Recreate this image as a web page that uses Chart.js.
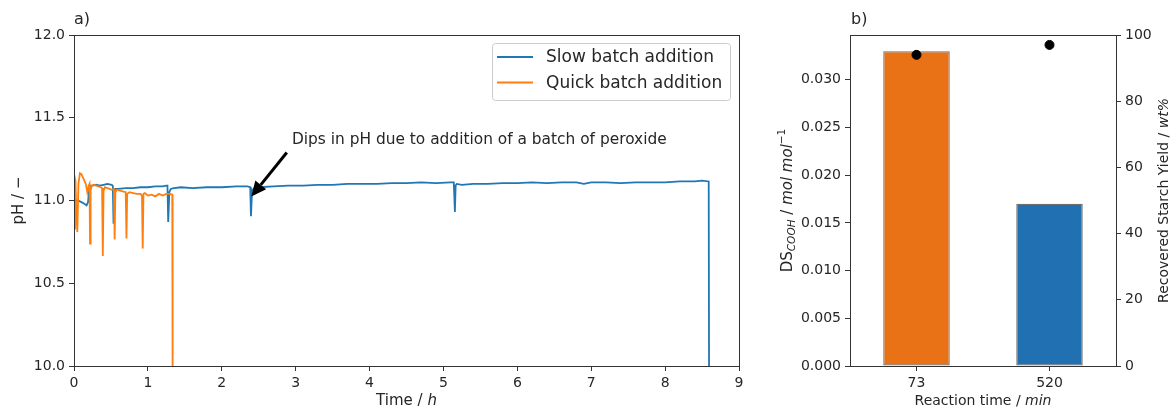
<!DOCTYPE html>
<html>
<head>
<meta charset="utf-8">
<script src="https://cdn.jsdelivr.net/npm/chart.js@4.4.1/dist/chart.umd.min.js"></script>
<style>
  html, body { margin: 0; padding: 0; background: #fff; }
  #wrap { position: relative; width: 1173px; height: 410px; }
  #phChart { position: absolute; left: 0; top: 0; }
  #barChart { position: absolute; left: 760px; top: 0; }
</style>
</head>
<body>
<div id="wrap">
  <canvas id="phChart" width="760" height="410"></canvas>
  <canvas id="barChart" width="413" height="410"></canvas>
</div>
<script>
// panel a) pH during the reaction
const slowTime = [
  0.00, 0.01, 0.05, 0.10, 0.14, 0.17, 0.19, 0.21, 0.25, 0.30,
  0.35, 0.40, 0.45, 0.51, 0.525, 0.535, 0.55, 0.60, 0.70, 0.80,
  0.90, 1.00, 1.10, 1.20, 1.25, 1.265, 1.275, 1.29, 1.31, 1.35,
  1.45, 1.60, 1.80, 2.00, 2.20, 2.35, 2.385, 2.395, 2.41, 2.44,
  2.50, 2.70, 2.90, 3.10, 3.30, 3.50, 3.70, 3.90, 4.10, 4.30,
  4.50, 4.70, 4.90, 5.10, 5.14, 5.155, 5.165, 5.18, 5.25, 5.40,
  5.60, 5.80, 6.00, 6.20, 6.40, 6.60, 6.80, 6.90, 7.00, 7.20,
  7.40, 7.60, 7.80, 8.00, 8.20, 8.40, 8.50, 8.59, 8.595
];
const slowPH = [
  10.83, 11.00, 11.00, 10.99, 10.98, 10.97, 10.99, 11.09, 11.09, 11.095,
  11.09, 11.095, 11.10, 11.095, 11.09, 10.86, 11.07, 11.07, 11.075, 11.075,
  11.08, 11.08, 11.085, 11.085, 11.09, 11.09, 10.87, 11.05, 11.07, 11.075,
  11.08, 11.075, 11.08, 11.08, 11.085, 11.085, 11.08, 10.905, 11.06, 11.075,
  11.08, 11.085, 11.09, 11.09, 11.095, 11.095, 11.10, 11.10, 11.10, 11.105,
  11.105, 11.11, 11.105, 11.11, 11.11, 10.93, 11.09, 11.10, 11.095, 11.10,
  11.10, 11.105, 11.105, 11.11, 11.105, 11.11, 11.11, 11.10, 11.11, 11.11,
  11.105, 11.11, 11.11, 11.11, 11.115, 11.115, 11.12, 11.115, 9.9
];
const quickTime = [
  0.00, 0.01, 0.02, 0.03, 0.045, 0.06, 0.08, 0.10, 0.12, 0.14,
  0.16, 0.18, 0.20, 0.21, 0.217, 0.225, 0.24, 0.27, 0.30, 0.33,
  0.36, 0.38, 0.39, 0.40, 0.42, 0.45, 0.48, 0.51, 0.54, 0.55,
  0.56, 0.58, 0.62, 0.66, 0.70, 0.71, 0.72, 0.75, 0.80, 0.85,
  0.90, 0.92, 0.93, 0.94, 0.96, 1.00, 1.05, 1.10, 1.15, 1.20,
  1.25, 1.30, 1.33, 1.335
];
const quickPH = [
  11.08, 11.14, 11.12, 10.95, 10.81, 11.10, 11.165, 11.16, 11.14, 11.12,
  11.10, 11.05, 11.09, 11.10, 10.74, 11.06, 11.09, 11.095, 11.09, 11.085,
  11.08, 11.075, 10.665, 11.06, 11.08, 11.075, 11.07, 11.065, 11.07, 10.765,
  11.05, 11.065, 11.06, 11.055, 11.05, 10.77, 11.04, 11.05, 11.045, 11.04,
  11.04, 11.03, 10.71, 11.04, 11.045, 11.03, 11.035, 11.025, 11.04, 11.03,
  11.04, 11.04, 11.035, 9.9
];
const timeTicks = [0, 1, 2, 3, 4, 5, 6, 7, 8, 9];
const phTicks = [10.0, 10.5, 11.0, 11.5, 12.0];

// panel b) DS and recovered yield
const reactionTimes = ['73', '520'];
const dsCooh = [0.033, 0.017];
const starchYield = [94, 97];
const dsTicks = [0, 0.005, 0.010, 0.015, 0.020, 0.025, 0.030];
const yieldTicks = [0, 20, 40, 60, 80, 100];

const FONT = 'DejaVu Sans';
const TXT = '#262626';
const AXIS = '#333';

function pairs(xs, ys) {
  return xs.map((x, i) => ({ x: x, y: ys[i] }));
}

// draw a run of text pieces (sub/superscript, italics) centred on x
function drawRich(ctx, parts, x, y) {
  let total = 0;
  parts.forEach(p => { ctx.font = p.font; total += ctx.measureText(p.text).width; });
  let cx = x - total / 2;
  ctx.textAlign = 'left';
  ctx.textBaseline = 'middle';
  parts.forEach(p => {
    ctx.font = p.font;
    ctx.fillText(p.text, cx, y + (p.dy || 0));
    cx += ctx.measureText(p.text).width;
  });
}

function axisStyle(ticks, fmt, fit) {
  return {
    afterBuildTicks: s => { s.ticks = ticks.map(v => ({ value: v })); },
    afterFit: fit,
    grid: { drawOnChartArea: false, drawTicks: true, tickLength: 5, tickColor: AXIS, color: AXIS, offset: false },
    border: { display: true, color: AXIS, width: 1 },
    ticks: { color: TXT, font: { family: FONT, size: 14 }, padding: 4, maxRotation: 0, autoSkip: false, callback: fmt }
  };
}

const frame = {
  id: 'frame',
  afterDraw(chart) {
    const { ctx, chartArea: a } = chart;
    ctx.save();
    ctx.strokeStyle = AXIS;
    ctx.lineWidth = 1;
    ctx.strokeRect(a.left + 0.5, a.top + 0.5, a.right - a.left, a.bottom - a.top);
    ctx.restore();
  }
};

const phDecor = {
  id: 'phDecor',
  afterDraw(chart) {
    const { ctx, chartArea: a, scales } = chart;
    const xs = scales.x, ys = scales.y;
    ctx.save();
    ctx.fillStyle = TXT;

    ctx.font = '16px ' + FONT;
    ctx.textAlign = 'left';
    ctx.textBaseline = 'middle';
    ctx.fillText('a)', a.left, 20);

    // axis titles
    drawRich(ctx, [
      { text: 'Time / ', font: '15px ' + FONT },
      { text: 'h', font: 'italic 15px ' + FONT }
    ], (a.left + a.right) / 2, 401);
    ctx.save();
    ctx.translate(19, (a.top + a.bottom) / 2);
    ctx.rotate(-Math.PI / 2);
    drawRich(ctx, [{ text: 'pH / \u2212', font: '15px ' + FONT }], 0, 0);
    ctx.restore();

    // annotation with arrow
    ctx.font = '15.4px ' + FONT;
    ctx.textAlign = 'left';
    ctx.fillText('Dips in pH due to addition of a batch of peroxide', xs.getPixelForValue(2.95), ys.getPixelForValue(11.366));
    const tx = xs.getPixelForValue(2.40), ty = ys.getPixelForValue(11.024);
    const sx = xs.getPixelForValue(2.88), sy = ys.getPixelForValue(11.29);
    const ang = Math.atan2(ty - sy, tx - sx);
    const headL = 15, headW = 7;
    const bx = tx - headL * Math.cos(ang), by = ty - headL * Math.sin(ang);
    ctx.strokeStyle = '#000';
    ctx.fillStyle = '#000';
    ctx.lineWidth = 3;
    ctx.beginPath();
    ctx.moveTo(sx, sy);
    ctx.lineTo(bx, by);
    ctx.stroke();
    ctx.beginPath();
    ctx.moveTo(tx, ty);
    ctx.lineTo(bx + headW * Math.sin(ang), by - headW * Math.cos(ang));
    ctx.lineTo(bx - headW * Math.sin(ang), by + headW * Math.cos(ang));
    ctx.closePath();
    ctx.fill();

    // legend box
    const lx = 492, ly = 43, lw = 238, lh = 57;
    ctx.fillStyle = 'rgba(255,255,255,0.85)';
    ctx.strokeStyle = '#cccccc';
    ctx.lineWidth = 1;
    ctx.beginPath();
    ctx.roundRect(lx + 0.5, ly + 0.5, lw, lh, 3);
    ctx.fill();
    ctx.stroke();
    const rows = [chart.data.datasets[0], chart.data.datasets[1]];
    rows.forEach((ds, i) => {
      const y = 57 + i * 25.5;
      ctx.strokeStyle = ds.borderColor;
      ctx.lineWidth = 2;
      ctx.beginPath();
      ctx.moveTo(497, y);
      ctx.lineTo(533, y);
      ctx.stroke();
      ctx.fillStyle = TXT;
      ctx.font = '17px ' + FONT;
      ctx.textBaseline = 'middle';
      ctx.fillText(ds.label, 546, y + 1);
    });
    ctx.restore();
  }
};

new Chart(document.getElementById('phChart'), {
  type: 'line',
  data: {
    datasets: [
      { label: 'Slow batch addition', data: pairs(slowTime, slowPH), borderColor: '#1f77b4', borderWidth: 1.8, pointRadius: 0, order: 1 },
      { label: 'Quick batch addition', data: pairs(quickTime, quickPH), borderColor: '#ff7f0e', borderWidth: 1.8, pointRadius: 0, order: 0 }
    ]
  },
  options: {
    responsive: false,
    animation: false,
    layout: { padding: { top: 35, right: 21, left: 0, bottom: 0 } },
    plugins: { legend: { display: false }, tooltip: { enabled: false } },
    scales: {
      x: Object.assign({ type: 'linear', min: 0, max: 9 },
        axisStyle(timeTicks, v => String(v), s => { s.height = 44; })),
      y: Object.assign({ type: 'linear', min: 10, max: 12 },
        axisStyle(phTicks, v => v.toFixed(1), s => { s.width = 74; }))
    }
  },
  plugins: [frame, phDecor]
});

const barDecor = {
  id: 'barDecor',
  afterDraw(chart) {
    const { ctx, chartArea: a } = chart;
    ctx.save();
    ctx.fillStyle = TXT;
    ctx.font = '16px ' + FONT;
    ctx.textAlign = 'left';
    ctx.textBaseline = 'middle';
    ctx.fillText('b)', a.left + 1, 20);

    drawRich(ctx, [
      { text: 'Reaction time / ', font: '14px ' + FONT },
      { text: 'min', font: 'italic 14px ' + FONT }
    ], (a.left + a.right) / 2, 401);

    ctx.save();
    ctx.translate(28, (a.top + a.bottom) / 2);
    ctx.rotate(-Math.PI / 2);
    drawRich(ctx, [
      { text: 'DS', font: '15px ' + FONT },
      { text: 'COOH', font: 'italic 10.5px ' + FONT, dy: 4 },
      { text: ' / ', font: '15px ' + FONT },
      { text: 'mol mol', font: 'italic 15px ' + FONT },
      { text: '\u22121', font: '10.5px ' + FONT, dy: -6 }
    ], 0, 0);
    ctx.restore();

    ctx.save();
    ctx.translate(404, (a.top + a.bottom) / 2);
    ctx.rotate(-Math.PI / 2);
    drawRich(ctx, [
      { text: 'Recovered Starch Yield / ', font: '14px ' + FONT },
      { text: 'wt%', font: 'italic 14px ' + FONT }
    ], 0, 0);
    ctx.restore();
    ctx.restore();
  }
};

new Chart(document.getElementById('barChart'), {
  type: 'bar',
  data: {
    labels: reactionTimes,
    datasets: [
      {
        type: 'bar', label: 'DS COOH', data: dsCooh, yAxisID: 'y',
        backgroundColor: ['#e97116', '#2070b2'], borderColor: '#6f6f6f', borderWidth: 1.2,
        borderSkipped: false, categoryPercentage: 1, barPercentage: 0.5, order: 1
      },
      {
        type: 'line', label: 'Recovered starch yield', data: starchYield, yAxisID: 'y2',
        showLine: false, pointRadius: 4.5, pointBackgroundColor: '#000', pointBorderColor: '#000', order: 0
      }
    ]
  },
  options: {
    responsive: false,
    animation: false,
    layout: { padding: { top: 35, right: 0, left: 0, bottom: 0 } },
    plugins: { legend: { display: false }, tooltip: { enabled: false } },
    scales: {
      x: Object.assign({ type: 'category', offset: true },
        axisStyle([0, 1], (v, i) => reactionTimes[i], s => { s.height = 44; })),
      y: Object.assign({ type: 'linear', position: 'left', min: 0, max: 0.0347 },
        axisStyle(dsTicks, v => v.toFixed(3), s => { s.width = 90; })),
      y2: Object.assign({ type: 'linear', position: 'right', min: 0, max: 100 },
        axisStyle(yieldTicks, v => String(v), s => { s.width = 57; }))
    }
  },
  plugins: [frame, barDecor]
});
</script>
</body>
</html>
